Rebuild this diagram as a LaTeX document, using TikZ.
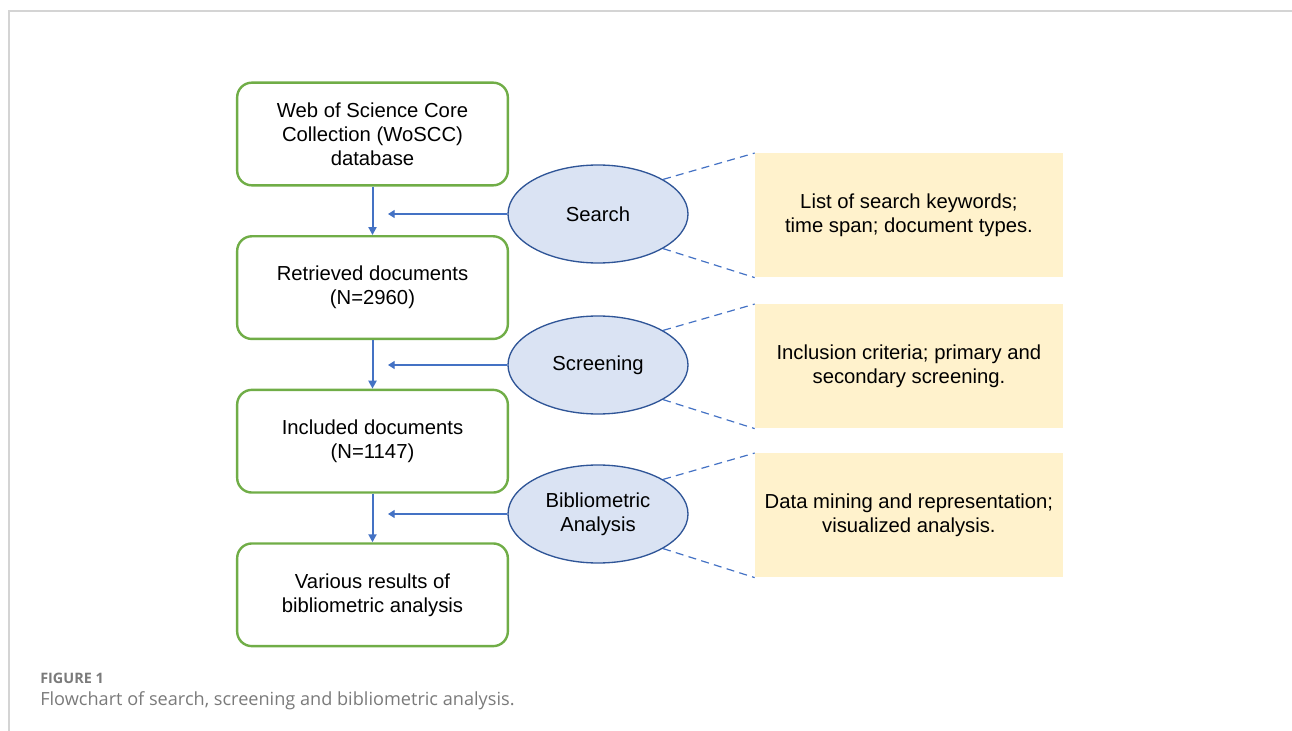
\documentclass[tikz,border=0pt]{standalone}
\usepackage{fontspec}
\setmainfont{Liberation Sans}
\newfontfamily\capfont{Open Sans}
\usepackage{xcolor}
\usetikzlibrary{positioning, shapes.geometric, arrows.meta}

\definecolor{boxgreen}{HTML}{70AD47}
\definecolor{ellline}{HTML}{2F5597}
\definecolor{ellfill}{HTML}{DAE3F3}
\definecolor{arrblue}{HTML}{4472C4}
\definecolor{notefill}{HTML}{FFF2CC}
\definecolor{framegray}{HTML}{D4D4D4}
\definecolor{capgray}{HTML}{7A7A7A}

\tikzset{
  boxfont/.style={font=\fontsize{15.2}{18}\selectfont},
  stepbox/.style={draw=boxgreen, line width=1.8pt, rounded corners=11pt,
    minimum width=203pt, minimum height=77pt, align=center, boxfont},
  phase/.style={ellipse, draw=ellline, fill=ellfill, line width=1pt,
    minimum width=135pt, minimum height=73.5pt, inner sep=0pt, align=center, boxfont},
  notebox/.style={fill=notefill, minimum width=231pt, minimum height=93pt,
    align=center, boxfont},
  flow/.style={arrblue, line width=1.5pt, -{Triangle[length=6pt, width=6pt]}},
  feed/.style={arrblue, line width=1pt, -{Triangle[length=5pt, width=6pt]}},
  link/.style={arrblue, line width=0.9pt, dash pattern=on 6pt off 4pt},
}

\begin{document}
\begin{tikzpicture}[x=0.75pt, y=-0.75pt]
  \useasboundingbox (0,0) rectangle (1292,731);

  % page frame
  \draw[framegray, line width=1.5pt] (1292,11) -- (9,11) -- (9,731);

  % main flow
  \node[stepbox] (web) at (372.5,134) {Web of Science Core\\Collection (WoSCC)\\database};
  \node[stepbox, below=36.4pt of web] (retrieved) {Retrieved documents\\(N=2960)};
  \node[stepbox, below=36.4pt of retrieved] (included) {Included documents\\(N=1147)};
  \node[stepbox, below=36.4pt of included] (results) {Various results of\\bibliometric analysis};

  \draw[flow] (web) -- (retrieved);
  \draw[flow] (retrieved) -- (included);
  \draw[flow] (included) -- (results);

  % phases with their notes
  \foreach \name/\y/\label/\note in {
      search/214/{Search}/{List of search keywords;\\time span; document types.},
      screening/365/{Screening}/{Inclusion criteria; primary and\\secondary screening.},
      biblio/514/{Bibliometric\\Analysis}/{Data mining and representation;\\visualized analysis.}} {
    \node[phase] (\name) at (598,\y) {\label};
    \node[notebox, right=49.5pt of \name, yshift=-1pt] (\name note) {\note};
    \coordinate (\name tip) at (388,\y);
    \draw[feed] (\name) -- (\name tip);
    \draw[link] (\name.28) -- (\name note.north west);
    \draw[link] (\name.-28) -- (\name note.south west);
  }

  % caption
  \node[anchor=base west, inner sep=0pt, text=capgray,
    font=\capfont\bfseries\fontsize{10.8}{12}\selectfont] (figlabel) at (40,683) {FIGURE 1};
  \node[anchor=base west, inner sep=0pt, text=capgray,
    font=\capfont\fontsize{13.6}{16}\selectfont] (figcaption) at (40,705)
    {Flowchart of search, screening and bibliometric analysis.};
\end{tikzpicture}
\end{document}
